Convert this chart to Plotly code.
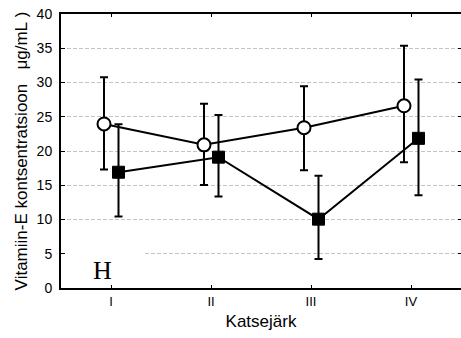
import plotly.graph_objects as go

groups = ["I", "II", "III", "IV"]

# Open circles series
circ_mean = [23.95, 20.9, 23.4, 26.6]
circ_hi = [30.75, 26.9, 29.45, 35.35]
circ_lo = [17.3, 15.05, 17.2, 18.35]

# Filled squares series
sq_mean = [16.9, 19.1, 10.05, 21.85]
sq_hi = [23.9, 25.25, 16.4, 30.45]
sq_lo = [10.45, 13.35, 4.25, 13.55]

y_ticks = [0, 5, 10, 15, 20, 25, 30, 35, 40]

pos = list(range(1, len(groups) + 1))
circ_x = [p - 0.07 for p in pos]
sq_x = [p + 0.075 for p in pos]

FONT = "Liberation Sans, Arial, sans-serif"

fig = go.Figure()

fig.add_trace(go.Scatter(
    x=circ_x, y=circ_mean, mode="lines+markers",
    line=dict(color="black", width=2),
    marker=dict(symbol="circle", size=13, color="white",
                line=dict(color="black", width=2)),
    error_y=dict(type="data", symmetric=False,
                 array=[h - m for h, m in zip(circ_hi, circ_mean)],
                 arrayminus=[m - l for m, l in zip(circ_mean, circ_lo)],
                 color="black", thickness=2, width=4),
    showlegend=False, hoverinfo="skip",
))

fig.add_trace(go.Scatter(
    x=sq_x, y=sq_mean, mode="lines+markers",
    line=dict(color="black", width=2),
    marker=dict(symbol="square", size=12, color="black",
                line=dict(color="black", width=1)),
    error_y=dict(type="data", symmetric=False,
                 array=[h - m for h, m in zip(sq_hi, sq_mean)],
                 arrayminus=[m - l for m, l in zip(sq_mean, sq_lo)],
                 color="black", thickness=2, width=4),
    showlegend=False, hoverinfo="skip",
))

# helper trace so the right-hand tick axis is drawn
fig.add_trace(go.Scatter(x=[None], y=[None], yaxis="y2",
                         showlegend=False, hoverinfo="skip"))

fig.add_shape(type="rect", xref="x", yref="y", x0=0.52, x1=1.32,
              y0=3.5, y1=6.5, fillcolor="white", line=dict(width=0),
              layer="between")

fig.add_annotation(text="H", x=0.91, y=2.55, xref="x", yref="y",
                   showarrow=False,
                   font=dict(family="Liberation Serif, Times New Roman, serif",
                             size=26, color="black"))

fig.update_layout(
    width=461, height=338,
    margin=dict(l=61, r=0, t=14, b=50),
    paper_bgcolor="white", plot_bgcolor="white",
    font=dict(family=FONT, color="black"),
    xaxis=dict(
        range=[0.5, 4.5], tickmode="array", tickvals=pos, ticktext=groups,
        ticks="inside", ticklen=3, tickwidth=1, tickcolor="black",
        showline=True, linewidth=2, linecolor="black", mirror="ticks",
        showgrid=False, zeroline=False,
        tickfont=dict(size=13, family=FONT, color="black"),
        title=dict(text="Katsejärk", font=dict(size=17, family=FONT, color="black"),
                   standoff=8),
    ),
    yaxis=dict(
        range=[0, 40], tickmode="array", tickvals=y_ticks,
        ticks="inside", ticklen=4, tickwidth=1, tickcolor="black",
        showline=True, linewidth=2, linecolor="black", mirror=False,
        showgrid=True, gridcolor="#c4c4c4", griddash="4px,2px", gridwidth=1,
        zeroline=False, ticklabelstandoff=4,
        tickfont=dict(size=14, family=FONT, color="black"),
        title=dict(text="Vitamiin-E kontsentratsioon\u00a0\u00a0 μg/mL\u00a0)",
                   font=dict(size=17, family=FONT, color="black"),
                   standoff=5),
    ),
    yaxis2=dict(
        overlaying="y", side="right", range=[0, 40], tickmode="array",
        tickvals=y_ticks, ticks="inside", ticklen=3, tickwidth=1,
        tickcolor="black", showticklabels=False, showgrid=False,
        showline=False, zeroline=False,
    ),
)

fig.write_html("out.html")
